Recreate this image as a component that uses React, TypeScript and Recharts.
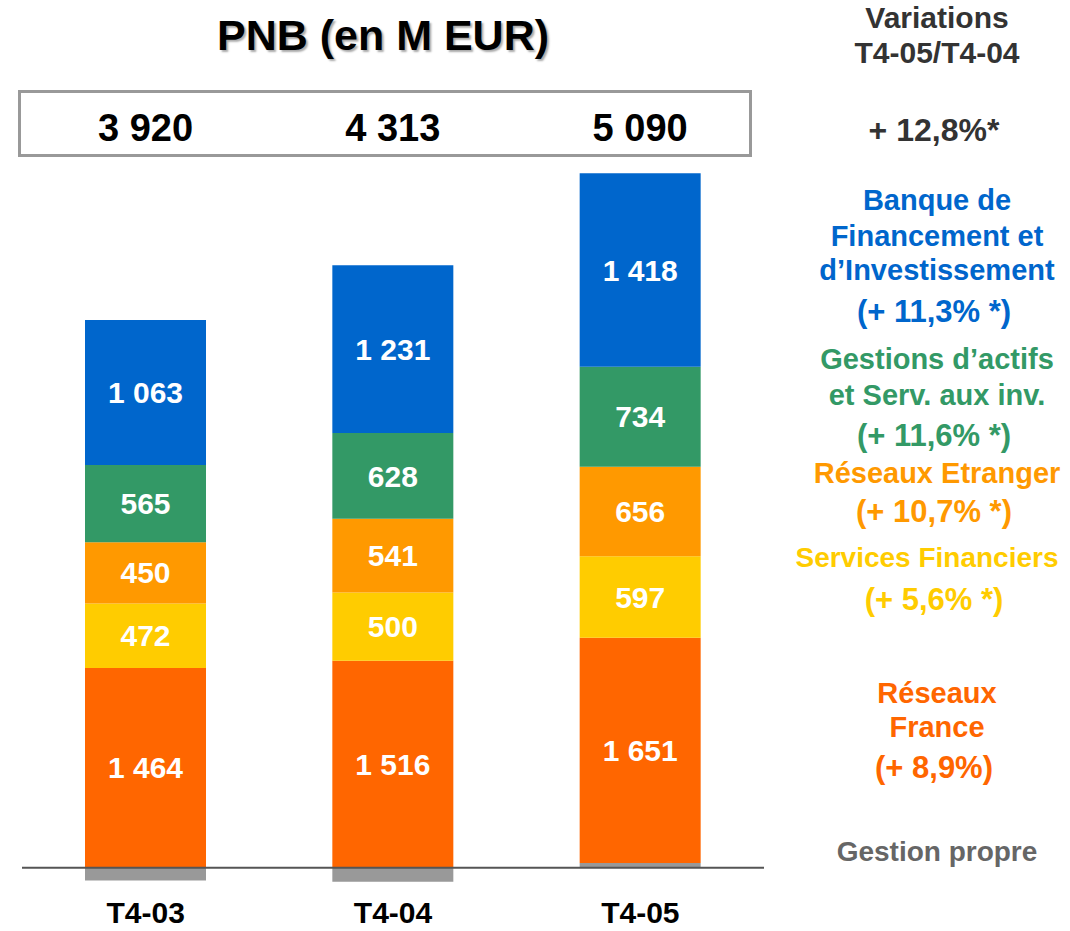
import { BarChart, Bar, XAxis, YAxis, ReferenceLine, LabelList } from "recharts";

const categories = ["T4-03", "T4-04", "T4-05"];
const gestionPropre = [-94, -103, 34];
const reseauxFrance = [1464, 1516, 1651];
const servicesFinanciers = [472, 500, 597];
const reseauxEtranger = [450, 541, 656];
const gestionsActifs = [565, 628, 734];
const bfi = [1063, 1231, 1418];
const totals = [3920, 4313, 5090];

const data = categories.map((name, i) => ({
  name,
  gp: gestionPropre[i],
  rf: reseauxFrance[i],
  sf: servicesFinanciers[i],
  re: reseauxEtranger[i],
  ga: gestionsActifs[i],
  bfi: bfi[i],
  total: totals[i],
}));

const fmt = (n: number) => String(n).replace(/\B(?=(\d{3})+(?!\d))/g, " ");

const FONT = "'Liberation Sans', Arial, sans-serif";

// texte de droite : [texte, centre x, centre y, couleur, taille]
const sideText: [string, number, number, string, number][] = [
  ["Variations", 937, 18, "#333333", 30],
  ["T4-05/T4-04", 937, 53, "#333333", 30],
  ["+ 12,8%*", 934, 130, "#333333", 32],
  ["Banque de", 937, 200, "#0066CC", 29],
  ["Financement et", 937, 236, "#0066CC", 29],
  ["d\u2019Investissement", 937, 270, "#0066CC", 29],
  ["(+ 11,3% *)", 934, 312, "#0066CC", 31],
  ["Gestions d\u2019actifs", 937, 359, "#339966", 29],
  ["et Serv. aux inv.", 937, 395, "#339966", 29],
  ["(+ 11,6% *)", 934, 436, "#339966", 31],
  ["R\u00e9seaux Etranger", 937, 473, "#FF9900", 29],
  ["(+ 10,7% *)", 934, 512, "#FF9900", 31],
  ["Services Financiers", 927, 558, "#FFCC00", 28],
  ["(+ 5,6% *)", 934, 600, "#FFCC00", 31],
  ["R\u00e9seaux", 937, 693, "#FF6600", 29],
  ["France", 937, 727, "#FF6600", 29],
  ["(+ 8,9%)", 934, 768, "#FF6600", 31],
  ["Gestion propre", 937, 852, "#666666", 28],
];

const segLabel = (key: string) => (
  <LabelList
    dataKey={key}
    position="center"
    formatter={(v: any) => fmt(Number(v))}
    fill="#ffffff"
    style={{ fontFamily: FONT, fontWeight: 700, fontSize: 30 }}
  />
);

const TotalLabel = (props: any) => {
  const { x, width, value } = props;
  return (
    <text
      x={Number(x) + Number(width) / 2}
      y={141}
      textAnchor="middle"
      fill="#000"
      style={{ fontFamily: FONT, fontWeight: 700, fontSize: 38 }}
    >
      {fmt(Number(value))}
    </text>
  );
};

const Tick = (props: any) => {
  const { x, y, payload } = props;
  return (
    <text
      x={x}
      y={y}
      dy={20}
      textAnchor="middle"
      fill="#000"
      style={{ fontFamily: FONT, fontWeight: 700, fontSize: 30 }}
    >
      {payload.value}
    </text>
  );
};

export default function App() {
  return (
    <div style={{ position: "relative", width: 1070, height: 931, background: "#fff" }}>
      <style>{"body{margin:0}"}</style>
      <BarChart
        width={1070}
        height={931}
        data={data}
        stackOffset="sign"
        barSize={121}
        margin={{ top: 49, right: 306, bottom: 0, left: 22 }}
      >
        <XAxis
          dataKey="name"
          axisLine={false}
          tickLine={false}
          height={36}
          interval={0}
          tick={<Tick />}
        />
        <YAxis hide domain={[-200, 6000]} allowDataOverflow />
        <Bar dataKey="gp" stackId="a" fill="#999999" isAnimationActive={false} />
        <Bar dataKey="rf" stackId="a" fill="#FF6600" isAnimationActive={false}>
          {segLabel("rf")}
        </Bar>
        <Bar dataKey="sf" stackId="a" fill="#FFCC00" isAnimationActive={false}>
          {segLabel("sf")}
        </Bar>
        <Bar dataKey="re" stackId="a" fill="#FF9900" isAnimationActive={false}>
          {segLabel("re")}
        </Bar>
        <Bar dataKey="ga" stackId="a" fill="#339966" isAnimationActive={false}>
          {segLabel("ga")}
        </Bar>
        <Bar dataKey="bfi" stackId="a" fill="#0066CC" isAnimationActive={false}>
          {segLabel("bfi")}
          <LabelList dataKey="total" content={<TotalLabel />} />
        </Bar>
        <ReferenceLine y={0} stroke="#555555" strokeWidth={2} />
      </BarChart>

      <div
        style={{
          position: "absolute",
          left: 183,
          width: 400,
          top: 11,
          textAlign: "center",
          fontFamily: FONT,
          fontWeight: 700,
          fontSize: 43,
          lineHeight: "48px",
          color: "#000",
          textShadow: "2px 2px 2px #aaaaaa",
        }}
      >
        PNB (en M EUR)
      </div>

      <div
        style={{
          position: "absolute",
          left: 18,
          top: 90,
          width: 734,
          height: 67,
          boxSizing: "border-box",
          border: "3px solid #999999",
        }}
      />

      {sideText.map(([t, cx, cy, color, size]) => (
        <div
          key={t + cy}
          style={{
            position: "absolute",
            left: cx - 150,
            width: 300,
            top: cy - 18,
            height: 36,
            lineHeight: "36px",
            textAlign: "center",
            fontFamily: FONT,
            fontWeight: 700,
            fontSize: size,
            color,
            whiteSpace: "nowrap",
          }}
        >
          {t}
        </div>
      ))}
    </div>
  );
}
